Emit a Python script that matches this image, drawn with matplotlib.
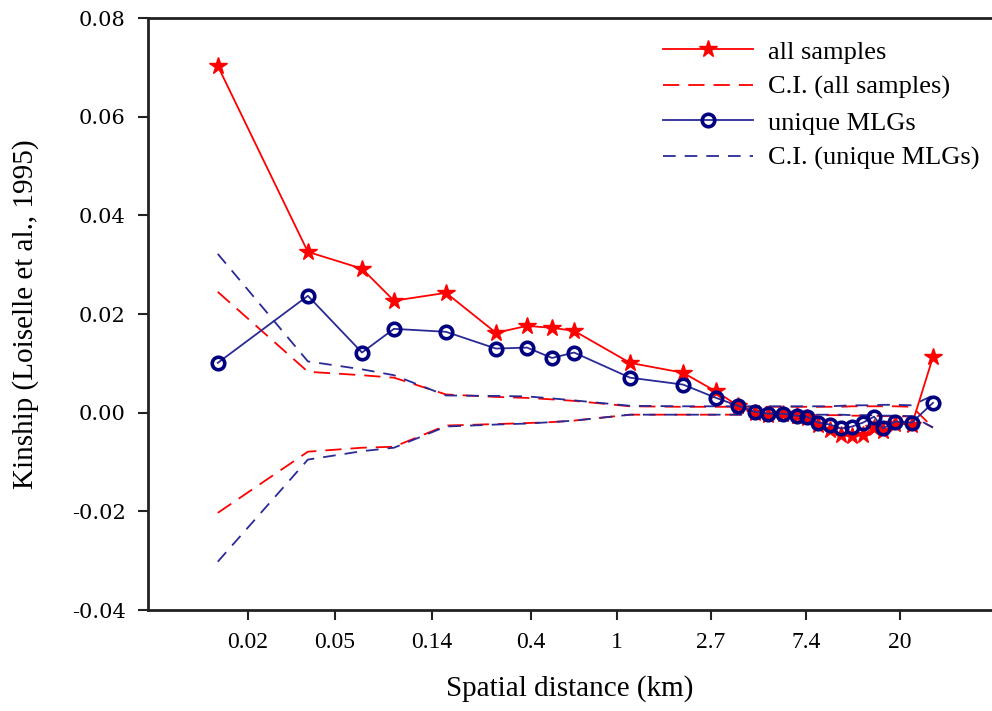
import numpy as np
import matplotlib.pyplot as plt
from matplotlib.ticker import FixedLocator, NullLocator

# distance classes (km), shared by both analyses
dist = [0.0145, 0.0377, 0.0669, 0.0939, 0.163, 0.277, 0.385, 0.502, 0.634,
        1.148, 2.014, 2.858, 3.608, 4.32, 4.96, 5.81, 6.74, 7.50, 8.43, 9.57,
        10.75, 12.08, 13.58, 15.26, 16.79, 19.07, 22.8, 28.5]

kin_all = [0.0703, 0.0326, 0.0292, 0.0227, 0.0243, 0.0162, 0.0176, 0.0172, 0.0166,
           0.0101, 0.0081, 0.0043, 0.0014, 0.0000, -0.0004, -0.0002, -0.0007, -0.0010,
           -0.0024, -0.0035, -0.0045, -0.0048, -0.0045, -0.0030, -0.0038, -0.0022,
           -0.0024, 0.0113]
kin_mlg = [0.0101, 0.0237, 0.0122, 0.0170, 0.0164, 0.0130, 0.0132, 0.0111, 0.0122,
           0.0071, 0.0057, 0.0030, 0.0014, 0.0002, -0.0002, -0.0002, -0.0006, -0.0008,
           -0.0020, -0.0024, -0.0032, -0.0028, -0.0020, -0.0008, -0.0032, -0.0018,
           -0.0020, 0.0020]

ci_all_hi = [0.0245, 0.0083, 0.0076, 0.0071, 0.0037, 0.0032, 0.0030, 0.0027, 0.0024,
             0.0013, 0.0012, 0.0012, 0.0012, 0.0012, 0.0012, 0.0012, 0.0012, 0.0012,
             0.0012, 0.0012, 0.0012, 0.0013, 0.0013, 0.0013, 0.0013, 0.0013, 0.0012,
             -0.0030]
ci_all_lo = [-0.0203, -0.0079, -0.0071, -0.0069, -0.0026, -0.0023, -0.0021, -0.0019,
             -0.0016, -0.0004, -0.0004, -0.0004, -0.0004, -0.0004, -0.0004, -0.0004,
             -0.0004, -0.0004, -0.0005, -0.0005, -0.0005, -0.0006, -0.0006, -0.0006,
             -0.0007, -0.0007, -0.0008, -0.0030]
ci_mlg_hi = [0.0322, 0.0104, 0.0088, 0.0076, 0.0035, 0.0034, 0.0033, 0.0029, 0.0025,
             0.0014, 0.0013, 0.0013, 0.0013, 0.0013, 0.0013, 0.0013, 0.0013, 0.0013,
             0.0013, 0.0013, 0.0014, 0.0015, 0.0015, 0.0015, 0.0016, 0.0016, 0.0015,
             0.0035]
ci_mlg_lo = [-0.0302, -0.0095, -0.0078, -0.0071, -0.0028, -0.0024, -0.0022, -0.0019,
             -0.0016, -0.0004, -0.0004, -0.0004, -0.0004, -0.0004, -0.0004, -0.0004,
             -0.0004, -0.0004, -0.0004, -0.0004, -0.0004, -0.0005, -0.0005, -0.0005,
             -0.0006, -0.0006, -0.0007, -0.0030]

xticks = [0.02, 0.05, 0.14, 0.4, 1, 2.7, 7.4, 20]
xtick_labels = ["0.02", "0.05", "0.14", "0.4", "1", "2.7", "7.4", "20"]
yticks = [-0.04, -0.02, 0.0, 0.02, 0.04, 0.06, 0.08]

RED = "#ff0000"
NAVY = "#000080"
BLUE = "#2a2a96"

fig = plt.figure(figsize=(9.92, 7.11), dpi=100)
ax = fig.add_axes([0.1492, 0.142, 0.851, 0.8326])

ax.plot(dist, kin_all, color=RED, lw=1.3, marker="*", ms=13, mfc=RED, mec=RED,
        label="all samples", zorder=4)
ax.plot(dist, ci_all_hi, color=RED, lw=1.3, ls=(0, (9, 5)), label="C.I. (all samples)")
ax.plot(dist, ci_all_lo, color=RED, lw=1.3, ls=(0, (9, 5)))
ax.plot(dist, kin_mlg, color=BLUE, lw=1.3, marker="o", ms=9, mfc="none", mec=NAVY,
        mew=2.6, label="unique MLGs", zorder=5)
ax.plot(dist, ci_mlg_hi, color=BLUE, lw=1.3, ls=(0, (7, 5)), label="C.I. (unique MLGs)")
ax.plot(dist, ci_mlg_lo, color=BLUE, lw=1.3, ls=(0, (7, 5)))

ax.set_xscale("log")
ax.set_xlim(0.00692, 53.4)
ax.set_ylim(-0.04, 0.08)
ax.xaxis.set_major_locator(FixedLocator(xticks))
ax.xaxis.set_minor_locator(NullLocator())
ax.set_xticklabels(xtick_labels, fontsize=17, family="Liberation Serif")
ax.set_yticks(yticks)
ax.set_yticklabels(["%.2f" % v for v in yticks], fontsize=15, family="DejaVu Serif")

for side in ["left", "bottom", "top"]:
    ax.spines[side].set_linewidth(2)
    ax.spines[side].set_color("#222222")
ax.spines["right"].set_visible(False)
ax.tick_params(axis="both", direction="out", length=7, width=1.5, color="#222222")
ax.tick_params(axis="x", pad=9)
ax.tick_params(axis="y", pad=9)

ax.set_xlabel("Spatial distance (km)", fontsize=21, family="Liberation Serif", labelpad=16)
ax.set_ylabel("Kinship (Loiselle et al., 1995)", fontsize=21, family="Liberation Serif",
              labelpad=24)

ax.legend(loc="upper right", bbox_to_anchor=(1.0, 0.985), frameon=False,
          prop={"family": "Liberation Serif", "size": 19}, handlelength=3.4,
          labelspacing=0.45, handletextpad=0.55, borderaxespad=0.1)

fig.savefig("out.png", dpi=100)
